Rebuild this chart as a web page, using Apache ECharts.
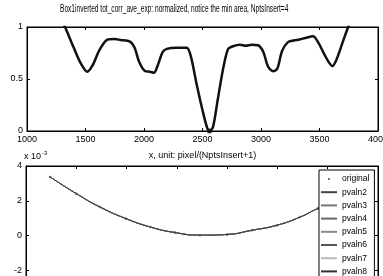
<!DOCTYPE html>
<html>
<head>
<meta charset="utf-8">
<script src="https://cdn.jsdelivr.net/npm/echarts@6/dist/echarts.min.js"></script>
<style>
  html, body { margin: 0; padding: 0; background: #fff; }
  #chart { width: 383px; height: 276px; }
</style>
</head>
<body>
<div id="chart"></div>
<script>
// top panel: normalized inverted correlation
const topX = [1300, 1325, 1400, 1460, 1515, 1560, 1620, 1690, 1750, 1800, 1880, 1920, 1960, 2010, 2050, 2085,
  2120, 2160, 2195, 2280, 2330, 2365, 2400, 2450, 2500, 2540, 2560, 2590, 2630, 2680, 2720, 2760, 2820,
  2870, 2920, 2975, 3020, 3060, 3105, 3140, 3180, 3230, 3280, 3330, 3380, 3445, 3490, 3540, 3580, 3610,
  3650, 3700, 3745, 3770]
const topY = [1.05, 1.0, 0.8, 0.65, 0.57, 0.63, 0.78, 0.88, 0.885, 0.875, 0.86, 0.8, 0.66, 0.575, 0.57, 0.56,
  0.64, 0.76, 0.79, 0.8, 0.8, 0.8, 0.72, 0.45, 0.2, 0.03, 0.0, 0.04, 0.3, 0.62, 0.79, 0.815, 0.83,
  0.82, 0.83, 0.825, 0.76, 0.62, 0.575, 0.6, 0.77, 0.855, 0.87, 0.88, 0.895, 0.91, 0.85, 0.74, 0.66, 0.625,
  0.7, 0.86, 1.0, 1.06]
const topMin = [[2560, 0]]
const topXTicks = [1000, 4000, 500]
const topYTicks = [0, 1, 0.5]

// bottom panel: parabola fits (x 10^-3)
const botX = [0.48, 1.0, 1.47, 1.99, 2.47, 2.96, 3.46, 4.0, 4.49, 4.99, 5.45, 5.8, 6.2, 6.5]
const botY = [3.37, 2.41, 1.64, 0.97, 0.49, 0.17, 0.02, 0.06, 0.3, 0.59, 1.06, 1.55, 2.0, 2.5]
const fitNames = ['pvaln2', 'pvaln3', 'pvaln4', 'pvaln5', 'pvaln6', 'pvaln7', 'pvaln8']
const fitColors = ['#444', '#777', '#666', '#888', '#555', '#bbb', '#333']
const botXTicks = [0, 7, 1]
const botYTicks = [-4, 4, 2]

const TITLE = 'Box1inverted tot_corr_ave_exp: normalized, notice the min area, NptsInsert=4'
const FONT = '"Liberation Sans", Arial, sans-serif'
const zip = (xs, ys) => xs.map((x, i) => [x, ys[i]])

const chart = echarts.init(document.getElementById('chart'))

const axisCommon = {
  axisLine: { onZero: false, lineStyle: { color: '#000', width: 1 } },
  axisTick: { inside: true, length: 3, lineStyle: { color: '#000' } },
  splitLine: { show: false },
  axisLabel: { color: '#000', fontFamily: FONT, fontSize: 9, margin: 4, formatter: (v) => String(v) },
}
const mirror = (extra) => ({
  ...axisCommon, ...extra,
  axisLabel: { show: false },
})

const option = {
  animation: false,
  backgroundColor: '#fff',
  graphic: [{
    type: 'text', x: 60, y: 4, scaleX: 0.66,
    style: { text: TITLE, fontFamily: FONT, fontSize: 10, fill: '#000' },
  }],
  grid: [
    { left: 27, right: 5, top: 27, height: 104, outerBoundsMode: 'none',
      show: true, borderColor: '#000', borderWidth: 1 },
    { left: 26, right: 5, top: 166, height: 139, outerBoundsMode: 'none',
      show: true, borderColor: '#000', borderWidth: 1 },
  ],
  xAxis: [
    { ...axisCommon, gridIndex: 0, type: 'value', min: topXTicks[0], max: topXTicks[1], interval: topXTicks[2],
      name: 'x, unit: pixel/(NptsInsert+1)', nameLocation: 'middle', nameGap: 20,
      nameTextStyle: { fontFamily: FONT, fontSize: 9, color: '#000' } },
    mirror({ gridIndex: 0, type: 'value', position: 'top', min: topXTicks[0], max: topXTicks[1], interval: topXTicks[2] }),
    { ...axisCommon, gridIndex: 1, type: 'value', min: botXTicks[0], max: botXTicks[1], interval: botXTicks[2],
      axisLabel: { show: false } },
    mirror({ gridIndex: 1, type: 'value', position: 'top', min: botXTicks[0], max: botXTicks[1], interval: botXTicks[2] }),
  ],
  yAxis: [
    { ...axisCommon, gridIndex: 0, type: 'value', min: topYTicks[0], max: topYTicks[1], interval: topYTicks[2] },
    mirror({ gridIndex: 0, type: 'value', position: 'right', min: topYTicks[0], max: topYTicks[1], interval: topYTicks[2] }),
    { ...axisCommon, gridIndex: 1, type: 'value', min: botYTicks[0], max: botYTicks[1], interval: botYTicks[2],
      name: '{a|x 10}{b|-3}', nameLocation: 'end', nameGap: 3,
      nameTextStyle: {
        align: 'left', padding: [0, 0, 0, -2],
        rich: {
          a: { fontFamily: FONT, fontSize: 9, color: '#000' },
          b: { fontFamily: FONT, fontSize: 6, color: '#000', padding: [0, 0, 7, 1] },
        },
      } },
    mirror({ gridIndex: 1, type: 'value', position: 'right', min: botYTicks[0], max: botYTicks[1], interval: botYTicks[2] }),
  ],
  legend: {
    orient: 'vertical',
    left: 319, top: 170, height: 120,
    backgroundColor: '#fff',
    borderColor: '#000', borderWidth: 1,
    padding: [4, 5, 3, 2],
    itemWidth: 16, itemHeight: 2, itemGap: 3.2,
    textStyle: { fontFamily: FONT, fontSize: 8.5, color: '#000', lineHeight: 10 },
    data: [{ name: 'original', icon: 'circle' }, ...fitNames.map((n) => ({ name: n, icon: 'rect' }))],
  },
  series: [
    { type: 'line', name: 'top', xAxisIndex: 0, yAxisIndex: 0, data: zip(topX, topY),
      symbol: 'none', smooth: 0.3, lineStyle: { color: '#111', width: 2.5 } },
    { type: 'scatter', name: 'min', xAxisIndex: 0, yAxisIndex: 0, data: topMin,
      symbolSize: 5, itemStyle: { color: '#000' }, clip: false },
    ...fitNames.map((n, i) => ({
      type: 'line', name: n, xAxisIndex: 2, yAxisIndex: 2, data: zip(botX, botY),
      symbol: 'none', smooth: 0.5, lineStyle: { color: fitColors[i], width: 1 },
      itemStyle: { color: fitColors[i] },
    })),
    { type: 'scatter', name: 'original', xAxisIndex: 2, yAxisIndex: 2, data: zip(botX, botY),
      symbolSize: 2.5, itemStyle: { color: '#222' } },
  ],
}

chart.setOption(option)
</script>
</body>
</html>
